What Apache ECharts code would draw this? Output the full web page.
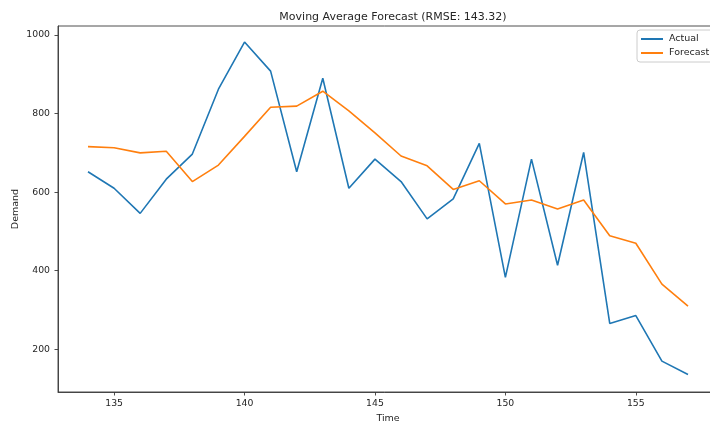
<!DOCTYPE html>
<html>
<head>
<meta charset="utf-8">
<script src="https://cdn.jsdelivr.net/npm/echarts@6/dist/echarts.min.js"></script>
<style>
  html, body { margin: 0; padding: 0; background: #fff; }
  #chart { width: 710px; height: 428px; }
</style>
</head>
<body>
<div id="chart"></div>
<script>
// Time steps and demand series
const timeSteps = [134, 135, 136, 137, 138, 139, 140, 141, 142, 143, 144, 145,
                   146, 147, 148, 149, 150, 151, 152, 153, 154, 155, 156, 157];
const actualDemand = [652, 610, 546, 633, 697, 862, 982, 908, 652, 890, 610, 684,
                      627, 532, 583, 724, 383, 684, 414, 701, 266, 286, 170, 136];
const forecastDemand = [716, 713, 700, 704, 627, 669, 742, 816, 819, 857, 807, 751,
                        692, 667, 607, 629, 570, 580, 557, 580, 489, 470, 366, 310];
const xTickValues = [135, 140, 145, 150, 155];
const yTickValues = [200, 400, 600, 800, 1000];

const FONT = 'DejaVu Sans';
const TEXT = '#262626';
const SPINE = '#3a3a3a';

const pairs = (ys) => timeSteps.map((t, i) => [t, ys[i]]);
const plain = (v) => String(v);

const chart = echarts.init(document.getElementById('chart'), null, { renderer: 'canvas' });

chart.setOption({
  animation: false,
  backgroundColor: '#ffffff',
  title: {
    text: 'Moving Average Forecast (RMSE: 143.32)',
    left: 388,
    top: 7,
    textAlign: 'center',
    textStyle: { fontFamily: FONT, fontSize: 11, fontWeight: 'normal', color: TEXT }
  },
  legend: {
    orient: 'vertical',
    left: 637,
    top: 30,
    padding: [4, 8, 4, 3],
    itemWidth: 22,
    itemHeight: 2,
    itemGap: 4,
    borderColor: '#cccccc',
    borderWidth: 1,
    borderRadius: 3,
    backgroundColor: '#ffffff',
    textStyle: { fontFamily: FONT, fontSize: 9.5, color: TEXT, padding: [0, 0, 0, 1] },
    data: ['Actual', 'Forecast']
  },
  grid: {
    left: 58,
    top: 26,
    width: 660,
    height: 366,
    show: true,
    borderColor: SPINE,
    borderWidth: 0.9,
    outerBoundsMode: 'none',
    containLabel: false
  },
  xAxis: {
    type: 'value',
    min: 132.85,
    max: 158.15,
    name: 'Time',
    nameLocation: 'middle',
    nameGap: 22,
    nameMoveOverlap: false,
    nameTextStyle: { fontFamily: FONT, fontSize: 9.5, color: TEXT },
    splitLine: { show: false },
    axisLine: { show: true, lineStyle: { color: SPINE, width: 0.9 } },
    axisTick: { show: true, length: 3.5, customValues: xTickValues, lineStyle: { color: SPINE, width: 0.9 } },
    axisLabel: { customValues: xTickValues, formatter: plain, margin: 7, fontFamily: FONT, fontSize: 9.3, color: TEXT }
  },
  yAxis: {
    type: 'value',
    min: 91.4,
    max: 1022.9,
    name: 'Demand',
    nameLocation: 'middle',
    nameGap: 37,
    nameMoveOverlap: false,
    nameTextStyle: { fontFamily: FONT, fontSize: 9.5, color: TEXT },
    splitLine: { show: false },
    axisLine: { show: true, lineStyle: { color: SPINE, width: 0.9 } },
    axisTick: { show: true, length: 3.5, customValues: yTickValues, lineStyle: { color: SPINE, width: 0.9 } },
    axisLabel: { customValues: yTickValues, formatter: plain, margin: 8, fontFamily: FONT, fontSize: 9.3, color: TEXT }
  },
  series: [
    {
      name: 'Actual',
      type: 'line',
      data: pairs(actualDemand),
      symbol: 'none',
      color: '#1f77b4',
      lineStyle: { width: 1.6, color: '#1f77b4' }
    },
    {
      name: 'Forecast',
      type: 'line',
      data: pairs(forecastDemand),
      symbol: 'none',
      color: '#ff7f0e',
      lineStyle: { width: 1.6, color: '#ff7f0e' }
    }
  ]
});
</script>
</body>
</html>
